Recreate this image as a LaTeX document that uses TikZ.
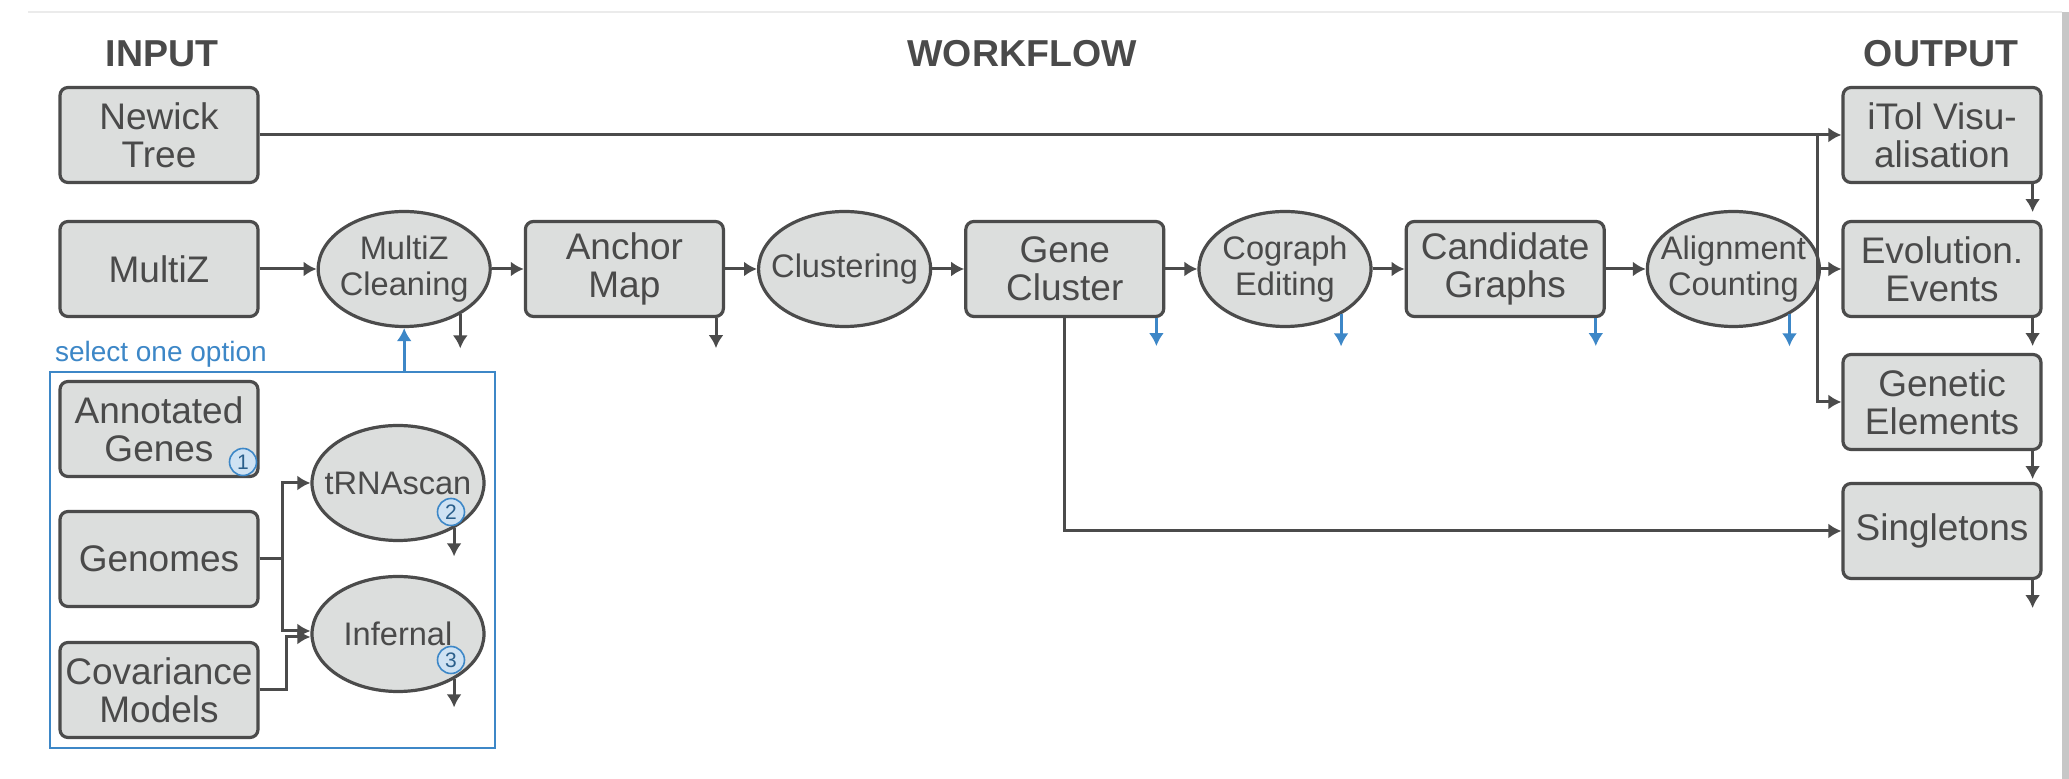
\documentclass[tikz,border=0pt]{standalone}
\usepackage{fontspec}
\setmainfont{Liberation Sans}
\usetikzlibrary{positioning,shapes.geometric,arrows.meta}
\definecolor{FlowGrey}{HTML}{DCDEDD}
\definecolor{FlowLine}{HTML}{4B4B4B}
\definecolor{FlowText}{HTML}{4A4A4A}
\definecolor{FlowBlue}{HTML}{3D87C7}
\definecolor{FlowPale}{HTML}{CFE2F3}

\begin{document}
\begin{tikzpicture}[x=0.5pt,y=-0.5pt,>={Latex[length=6.5pt,width=7.5pt]},node distance=16pt]
  \tikzstyle{box}=[draw=FlowLine,fill=FlowGrey,line width=1.6pt,rounded corners=4pt,
    minimum width=99pt,minimum height=47.5pt,inner xsep=2pt,align=center,
    text=FlowText,font=\fontsize{18.5}{19}\selectfont]
  \tikzstyle{tool}=[ellipse,draw=FlowLine,fill=FlowGrey,line width=1.6pt,
    minimum width=86pt,minimum height=57.5pt,inner xsep=-8pt,inner ysep=0pt,
    align=center,text=FlowText,font=\fontsize{16.3}{18}\selectfont]
  \tikzstyle{head}=[text=FlowText,font=\bfseries\fontsize{18.75}{20}\selectfont]
  \tikzstyle{flow}=[->,line width=1.5pt,draw=FlowLine]
  \tikzstyle{stub}=[->,line width=1.5pt,draw=FlowLine]
  \tikzstyle{bstub}=[->,line width=1.5pt,draw=FlowBlue]
  \tikzstyle{num}=[circle,draw=FlowBlue,fill=FlowPale,line width=0.8pt,inner sep=0pt,
    minimum size=13.5pt,text=FlowBlue!70!black,font=\fontsize{10.5}{10.5}\selectfont]

  \useasboundingbox (0,0) rectangle (2069,779);
  \fill[white] (0,0) rectangle (2069,779);
  \draw[line width=1pt,draw=black!8] (28,12) -- (2062,12);
  \fill[black!22] (2062,12) rectangle (2069,779);

  \node[head] (input) at (162,54) {INPUT};
  \node[head] (workflow) at (1022,54) {WORKFLOW};
  \node[head] (output) at (1941,54) {OUTPUT};

  % main row
  \node[box] (newick) at (159,135) {Newick\\Tree};
  \node[box] (multiz) at (159,269) {MultiZ};
  \node[tool,right=28.5pt of multiz] (clean) {MultiZ\\Cleaning};
  \node[box,right=of clean] (anchor) {Anchor\\Map};
  \node[tool,right=of anchor] (clustering) {Clustering};
  \node[box,right=of clustering] (gene) {Gene\\Cluster};
  \node[tool,right=of gene] (cograph) {Cograph\\Editing};
  \node[box,right=of cograph] (candidate) {Candidate\\Graphs};
  \node[tool,right=20pt of candidate] (alignment) {Alignment\\Counting};

  % results
  \node[box] (itol) at (1942,135) {iTol Visu-\\alisation};
  \node[box] (events) at (1942,269) {Evolution.\\Events};
  \node[box] (genetic) at (1942,402) {Genetic\\Elements};
  \node[box] (single) at (1942,531) {Singletons};

  % gene annotation options
  \node[draw=FlowBlue,line width=1.4pt,minimum width=222.5pt,minimum height=188pt,
    inner sep=0pt] (options) at (272.5,560) {};
  \node[anchor=base west,text=FlowBlue,inner sep=0pt,font=\fontsize{14}{14}\selectfont]
    (select) at ([xshift=3pt,yshift=4.5pt]options.north west) {select one option};
  \node[box] (annotated) at (159,429) {Annotated\\Genes};
  \node[box] (genomes) at (159,559) {Genomes};
  \node[box] (covariance) at (159,690) {Covariance\\Models};
  \node[tool] (trna) at (398,483) {tRNAscan};
  \node[tool] (infernal) at (398,634) {Infernal};

  \coordinate (split) at (1817,135);
  \draw[flow] (newick) -- (itol);
  \draw[flow] (split) |- (genetic);
  \draw[flow] (multiz) -- (clean);
  \draw[flow] (clean) -- (anchor);
  \draw[flow] (anchor) -- (clustering);
  \draw[flow] (clustering) -- (gene);
  \draw[flow] (gene) -- (cograph);
  \draw[flow] (cograph) -- (candidate);
  \draw[flow] (candidate) -- (alignment);
  \draw[flow] (alignment) -- (events);
  \draw[flow] (gene.south) |- (single);
  \draw[flow,draw=FlowBlue] (options.north -| clean) -- (clean);
  \draw[flow] (genomes.east) -- ++(23,0) |- (trna);
  \draw[flow] (genomes.east) -- ++(23,0) |- ([yshift=1.5pt]infernal.west);
  \draw[flow] (covariance.east) -- ++(27,0) |- ([yshift=-1.5pt]infernal.west);

  % side outputs
  \draw[stub] (clean.-39) -- ++(0,34);
  \draw[stub] ([xshift=-4.5pt]anchor.south east) -- ++(0,30);
  \draw[bstub] ([xshift=-4.5pt]gene.south east) -- ++(0,28);
  \draw[bstub] (cograph.-39) -- ++(0,32);
  \draw[bstub] ([xshift=-5pt]candidate.south east) -- ++(0,28);
  \draw[bstub] (alignment.-39) -- ++(0,32);
  \draw[stub] (trna.-39) -- ++(0,28);
  \draw[stub] (infernal.-39) -- ++(0,28);
  \draw[stub] ([xshift=-5pt]itol.south east) -- ++(0,28);
  \draw[stub] ([xshift=-5pt]events.south east) -- ++(0,28);
  \draw[stub] ([xshift=-5pt]genetic.south east) -- ++(0,28);
  \draw[stub] ([xshift=-5pt]single.south east) -- ++(0,28);

  \node[num] (n1) at (243,462) {1};
  \node[num] (n2) at (451,512) {2};
  \node[num] (n3) at (451,660) {3};
\end{tikzpicture}
\end{document}
